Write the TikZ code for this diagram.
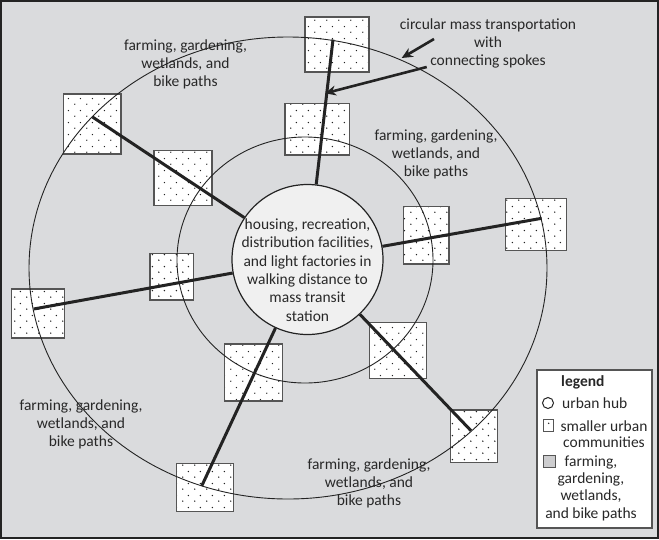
\documentclass[tikz,border=0pt]{standalone}
\usepackage{fontspec}
\setmainfont{Carlito}
\usetikzlibrary{arrows.meta,patterns,shapes.geometric}
\pgfdeclarepatternformonly{sparsedots}{\pgfpointorigin}{\pgfpoint{12pt}{12pt}}{\pgfpoint{12pt}{12pt}}{%
  \pgfpathcircle{\pgfpoint{3pt}{3pt}}{0.8pt}%
  \pgfpathcircle{\pgfpoint{9pt}{9pt}}{0.8pt}%
  \pgfusepath{fill}}
\definecolor{bg}{RGB}{218,219,221}
\definecolor{ink}{RGB}{35,35,35}
\definecolor{txt}{RGB}{40,40,40}
\definecolor{hubfill}{RGB}{240,240,240}
\definecolor{sqedge}{RGB}{85,85,85}
\definecolor{farmgray}{RGB}{205,205,207}
\begin{document}
\begin{tikzpicture}[x=1pt,y=-1pt,
  community/.style={draw=sqedge, line width=1.4pt, rectangle, inner sep=0pt,
    preaction={fill=white}, pattern=sparsedots, pattern color=ink},
  ring/.style={draw=ink, line width=0.9pt},
  spoke/.style={draw=ink, line width=3pt},
  pointer/.style={draw=ink, line width=2.6pt, -{Stealth[length=11pt,width=10pt]}},
  lbl/.style={inner sep=0pt, align=center, text=txt, font=\fontsize{15.5}{18}\selectfont},
]
\useasboundingbox (0,0) rectangle (659,539);
\fill[bg] (0,0) rectangle (659,539);
\draw[ink, line width=2pt] (1,1) rectangle (658,538);

% smaller urban communities
\node[community, minimum width=64pt, minimum height=55pt] (s1) at (337,44.5) {};
\node[community, minimum width=64.3pt, minimum height=51.7pt] (s2) at (317.2,129.2) {};
\node[community, minimum width=57.7pt, minimum height=60pt] (s3) at (92.2,124) {};
\node[community, minimum width=58pt, minimum height=55pt] (s4) at (183,178.2) {};
\node[community, minimum width=43.3pt, minimum height=46.7pt] (s5) at (171.7,276.7) {};
\node[community, minimum width=52.6pt, minimum height=49pt] (s6) at (38,313.5) {};
\node[community, minimum width=45.7pt, minimum height=57.3pt] (s7) at (426.2,235.4) {};
\node[community, minimum width=61pt, minimum height=52.4pt] (s8) at (536.2,224.5) {};
\node[community, minimum width=58pt, minimum height=57pt] (s9) at (253.3,372.5) {};
\node[community, minimum width=56.6pt, minimum height=48.4pt] (s10) at (205,487.5) {};
\node[community, minimum width=57.4pt, minimum height=55.6pt] (s11) at (398,350.5) {};
\node[community, minimum width=47pt, minimum height=52.3pt] (s12) at (474.2,436.2) {};

% rings
\draw[ring] (288,268) ellipse [x radius=259pt, y radius=231pt];
\draw[ring] (305,260) ellipse [x radius=128pt, y radius=123pt];

% hub
\node[ellipse, draw=ink, line width=1.2pt, fill=hubfill, minimum width=151pt,
  minimum height=150pt, inner sep=0pt] (hub) at (307.5,259.5) {};

% spoke ends on the outer ring
\coordinate (e1) at (333,39.5);
\coordinate (e2) at (92.5,117);
\coordinate (e3) at (33.6,309);
\coordinate (e4) at (541.7,218.3);
\coordinate (e5) at (201.7,486);
\coordinate (e6) at (471,430.7);
\foreach \e in {e1,e2,e3,e4,e5,e6} \draw[spoke] (hub) -- (\e);

% text
\node[lbl, font=\fontsize{15.5}{18.3}\selectfont] (hubtext) at (307.5,270)
  {housing, recreation,\\distribution facilities,\\and light factories in\\walking distance to\\mass transit\\station};
\node[lbl] (tl) at (185.5,64) {farming, gardening,\\wetlands, and\\bike paths};
\node[lbl] (tr) at (436,154) {farming, gardening,\\wetlands, and\\bike paths};
\node[lbl] (ll) at (81,424) {farming, gardening,\\wetlands, and\\bike paths};
\node[lbl] (bot) at (369,483.5) {farming, gardening,\\wetlands, and\\bike paths};
\node[lbl] (note) at (488,43.5) {circular mass transportation\\with\\connecting spokes};

% pointers
\coordinate (a1s) at (434,39);
\coordinate (a1e) at (401.7,58);
\coordinate (a2s) at (426.7,67);
\coordinate (a2e) at (325,93.3);
\draw[pointer] (a1s) -- (a1e);
\draw[pointer] (a2s) -- (a2e);

% legend
\node[draw=sqedge, line width=2pt, fill=white, minimum width=115pt, minimum height=158pt,
  inner sep=0pt] (legendbox) at (594.5,449) {};
\node[lbl, font=\bfseries\fontsize{15.5}{18}\selectfont, anchor=west] (legendtitle) at (561,382) {legend};
\node[circle, draw=ink, line width=1pt, fill=white, minimum size=11pt, inner sep=0pt] (lhub) at (548,403) {};
\node[lbl, anchor=west] (lhubtext) at (562,403) {urban hub};
\node[community, line width=1pt, minimum width=10pt, minimum height=12pt] (lcomm) at (548,425) {};
\node[lbl, font=\fontsize{15.5}{16.5}\selectfont] (lcommtext) at (604,434) {smaller urban\\communities};
\node[draw=sqedge, line width=1pt, fill=farmgray, minimum width=12pt, minimum height=12pt,
  inner sep=0pt] (lfarm) at (549,461) {};
\node[lbl, font=\fontsize{15.5}{17.3}\selectfont] (lfarmtext) at (591,488) {farming,\\gardening,\\wetlands,\\and bike paths};
\end{tikzpicture}
\end{document}
